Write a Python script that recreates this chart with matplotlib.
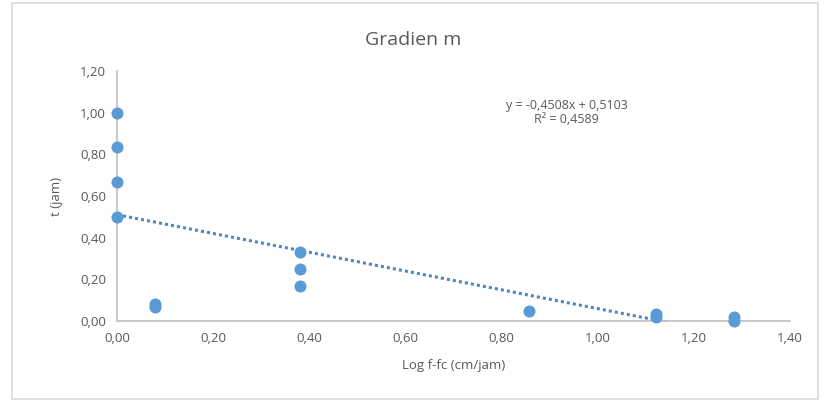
import numpy as np
import matplotlib
matplotlib.use('Agg')
from matplotlib import pyplot as plt
from matplotlib.patches import Rectangle

plot_title = 'Gradien m'

# log(f - fc) and time readings
log_f = [0.0, 0.0, 0.0, 0.0, 0.079, 0.079, 0.38, 0.38, 0.38, 0.857, 1.121, 1.121, 1.283, 1.283]
t_jam = [1.0, 0.833, 0.667, 0.5, 0.083, 0.067, 0.333, 0.25, 0.167, 0.05, 0.033, 0.017, 0.017, 0.0]

slope = -0.4508
intercept = 0.5103
r2 = 0.4589

x_ticks = [0.0, 0.2, 0.4, 0.6, 0.8, 1.0, 1.2, 1.4]
y_ticks = [0.0, 0.2, 0.4, 0.6, 0.8, 1.0, 1.2]

text_color = '#595959'
blue = '#5B9BD5'
plt.rcParams['font.family'] = ['Open Sans', 'DejaVu Sans']


def comma(v, nd=2):
    return ('%.*f' % (nd, v)).replace('.', ',')


def main():
    fig = plt.figure(figsize=(8.25, 4.03), dpi=100)
    fig.patches.append(Rectangle((12 / 825, 1 - 399 / 403), 806 / 825, 396 / 403,
                                 transform=fig.transFigure, fill=False,
                                 edgecolor='#D9D9D9', linewidth=1.2))
    ax = fig.add_axes([117 / 825, 1 - 321 / 403, 673 / 825, 250 / 403])

    ax.scatter(log_f, t_jam, s=75, color=blue, zorder=3, linewidths=0, clip_on=False)

    xs = np.array([min(log_f), max(log_f)])
    ax.plot(xs, slope * xs + intercept, color='#4F86C6', linestyle=(0, (1, 1)),
            linewidth=2.2, zorder=2)

    ax.set_xlim(0, 1.4)
    ax.set_ylim(0, 1.2)
    ax.set_xticks(x_ticks)
    ax.set_yticks(y_ticks)
    ax.set_xticklabels([comma(v) for v in x_ticks])
    ax.set_yticklabels([comma(v) for v in y_ticks])
    ax.tick_params(length=0, labelsize=9.5, colors=text_color, pad=8)
    for side in ['top', 'right']:
        ax.spines[side].set_visible(False)
    for side in ['left', 'bottom']:
        ax.spines[side].set_color('#BFBFBF')
        ax.spines[side].set_linewidth(1.2)

    ax.set_xlabel('Log f-fc (cm/jam)', fontsize=9.5, color=text_color, labelpad=10)
    ax.set_ylabel('t (jam)', fontsize=9.5, color=text_color, labelpad=12)
    fig.text(413 / 825, 1 - 40 / 403, plot_title, ha='center', va='center',
             fontsize=14, color=text_color)

    eq = 'y = %sx + %s\nR² = %s' % (comma(slope, 4), comma(intercept, 4), comma(r2, 4))
    ax.text(0.935, 1.0, eq, ha='center', va='center', fontsize=9,
            color=text_color, linespacing=1.15)

    plt.savefig('out.png', dpi=100)


if __name__ == '__main__':
    main()
